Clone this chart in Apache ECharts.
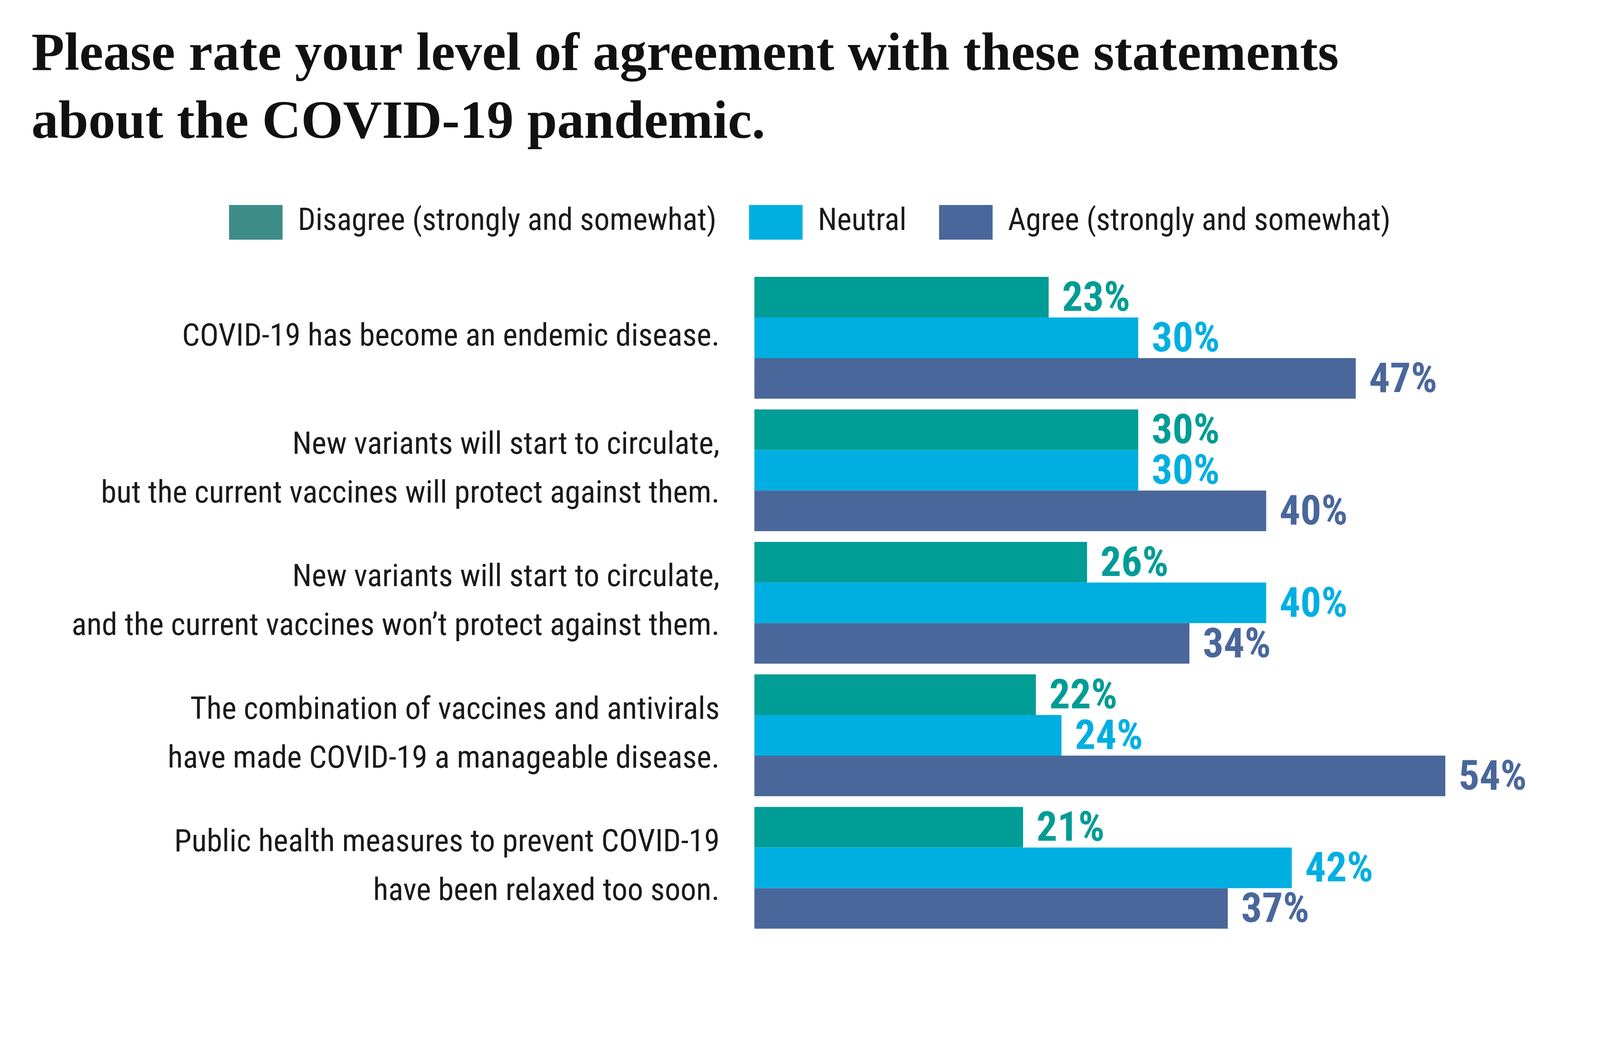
<!DOCTYPE html>
<html>
<head>
<meta charset="utf-8">
<script src="https://cdn.jsdelivr.net/npm/echarts@6/dist/echarts.min.js"></script>
<style>
html,body{margin:0;padding:0;background:#fff;overflow:hidden;}
#chart{width:100vw;height:100vh;}
</style>
</head>
<body>
<div id="chart"></div>
<script>
const titleText = "Please rate your level of agreement with these statements\nabout the COVID-19 pandemic.";
const categories = [
  "COVID-19 has become an endemic disease.",
  "New variants will start to circulate,\nbut the current vaccines will protect against them.",
  "New variants will start to circulate,\nand the current vaccines won\u2019t protect against them.",
  "The combination of vaccines and antivirals\nhave made COVID-19 a manageable disease.",
  "Public health measures to prevent COVID-19\nhave been relaxed too soon."
];
const seriesNames = ["Disagree (strongly and somewhat)", "Neutral", "Agree (strongly and somewhat)"];
const disagree = [23, 30, 26, 22, 21];
const neutral = [30, 30, 40, 24, 42];
const agree = [47, 40, 34, 54, 37];

const barColors = ["#009C96", "#00AFE1", "#4A679B"];
const legendColors = ["#3E8C87", "#00AFE1", "#4A679B"];
const labelFont = "'Roboto Condensed', 'Liberation Sans Narrow', 'DejaVu Sans Condensed', sans-serif";

const el = document.getElementById('chart');
const s = el.clientWidth / 4333;
el.style.height = (2671 * s) + 'px';
const px = v => v * s;

const chart = echarts.init(el, null, {renderer: 'canvas'});

function mkSeries(name, data, i) {
  return {
    name: name,
    type: 'bar',
    data: data,
    barGap: '0%',
    barCategoryGap: '8.1%',
    itemStyle: {color: barColors[i]},
    label: {
      show: true,
      position: 'right',
      distance: px(36),
      offset: [0, px(9)],
      formatter: '{c}%',
      color: barColors[i],
      fontFamily: labelFont,
      fontWeight: 'bold',
      fontSize: px(112)
    },
    emphasis: {disabled: true},
    animation: false
  };
}

chart.setOption({
  backgroundColor: '#ffffff',
  animation: false,
  title: {
    text: titleText,
    left: px(80),
    top: px(54),
    textStyle: {
      fontFamily: "'Liberation Serif', 'DejaVu Serif', serif",
      fontWeight: 'bold',
      fontSize: px(146),
      lineHeight: px(184),
      color: '#111111'
    }
  },
  legend: {
    left: px(615),
    top: px(550),
    itemWidth: px(145),
    itemHeight: px(94),
    itemGap: px(88),
    icon: 'rect',
    textStyle: {
      fontFamily: labelFont,
      fontSize: px(84),
      color: '#1a1a1a',
      padding: [0, 0, 0, px(36)]
    },
    data: seriesNames.map((n, i) => ({name: n, itemStyle: {color: legendColors[i]}}))
  },
  grid: {
    left: px(2043),
    width: px(2079),
    top: px(735.5),
    height: px(1795),
    containLabel: false,
    outerBoundsMode: 'none'
  },
  xAxis: {
    type: 'value',
    min: 0,
    max: 60,
    show: false
  },
  yAxis: {
    type: 'category',
    inverse: true,
    data: categories,
    axisLine: {show: false},
    axisTick: {show: false},
    axisLabel: {
      margin: px(94),
      fontFamily: labelFont,
      fontSize: px(85),
      lineHeight: px(132),
      padding: [px(28), 0, 0, 0],
      color: '#1a1a1a',
      align: 'right'
    }
  },
  series: [
    mkSeries(seriesNames[0], disagree, 0),
    mkSeries(seriesNames[1], neutral, 1),
    mkSeries(seriesNames[2], agree, 2)
  ]
});
</script>
</body>
</html>
